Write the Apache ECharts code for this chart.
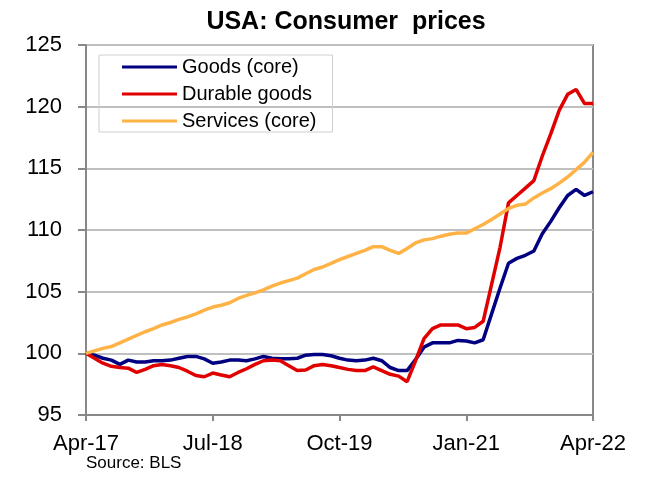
<!DOCTYPE html>
<html>
<head>
<meta charset="utf-8">
<script src="https://cdn.jsdelivr.net/npm/echarts@6/dist/echarts.min.js"></script>
<style>
  html, body { margin: 0; padding: 0; background: #fff; }
  #chart { width: 651px; height: 494px; }
</style>
</head>
<body>
<div id="chart"></div>
<script>
// monthly, Apr-17 .. Apr-22
const monthNames = ["Jan", "Feb", "Mar", "Apr", "May", "Jun", "Jul", "Aug", "Sep", "Oct", "Nov", "Dec"];
const months = [];
for (let i = 0; i < 61; i++) {
  const m = (3 + i) % 12;
  const y = 17 + Math.floor((3 + i) / 12);
  months.push(monthNames[m] + "-" + y);
}

const goodsCore = [
  100.0, 99.85, 99.6, 99.45, 99.1, 99.45, 99.3, 99.3, 99.4, 99.4,
  99.45, 99.6, 99.75, 99.75, 99.55, 99.2, 99.3, 99.45, 99.45, 99.4,
  99.55, 99.75, 99.6, 99.57, 99.57, 99.6, 99.85, 99.9, 99.9, 99.8,
  99.6, 99.45, 99.4, 99.45, 99.6, 99.4, 98.85, 98.6, 98.6, 99.5,
  100.5, 100.85, 100.85, 100.85, 101.05, 101.0, 100.85, 101.1, 103.2, 105.3,
  107.3, 107.7, 107.95, 108.3, 109.7, 110.7, 111.8, 112.8, 113.3, 112.8, 113.1
];
const durableGoods = [
  100.0, 99.6, 99.2, 98.95, 98.85, 98.8, 98.45, 98.7, 99.0, 99.1,
  99.0, 98.85, 98.55, 98.2, 98.1, 98.4, 98.25, 98.1, 98.45, 98.75,
  99.1, 99.4, 99.45, 99.4, 99.0, 98.6, 98.65, 99.0, 99.1, 99.0,
  98.85, 98.7, 98.6, 98.6, 98.9, 98.6, 98.3, 98.15, 97.7, 99.4,
  101.2, 102.0, 102.3, 102.3, 102.3, 102.0, 102.1, 102.6, 105.6, 108.6,
  112.2, 112.8, 113.4, 114.0, 116.0, 117.8, 119.7, 121.0, 121.4, 120.25, 120.25
];
const servicesCore = [
  100.0, 100.2, 100.4, 100.55, 100.85, 101.15, 101.45, 101.75, 102.0, 102.3,
  102.5, 102.75, 102.95, 103.2, 103.5, 103.75, 103.9, 104.1, 104.45, 104.7,
  104.9, 105.15, 105.45, 105.7, 105.9, 106.1, 106.45, 106.8, 107.0, 107.3,
  107.6, 107.85, 108.1, 108.35, 108.65, 108.65, 108.35, 108.1, 108.5, 108.95,
  109.2, 109.3, 109.5, 109.65, 109.75, 109.75, 110.1, 110.45, 110.85, 111.3,
  111.75, 112.0, 112.1, 112.6, 113.0, 113.35, 113.8, 114.3, 114.9, 115.5, 116.3
];

const font = "Liberation Sans, Arial, sans-serif";
const chart = echarts.init(document.getElementById("chart"));

chart.setOption({
  animation: false,
  backgroundColor: "#fff",
  title: {
    text: "USA: Consumer  prices",
    left: 341,
    textAlign: "center",
    top: 5,
    textStyle: { fontFamily: font, fontSize: 25, fontWeight: "bold", color: "#000" }
  },
  graphic: [{
    type: "text",
    left: 86,
    top: 455,
    style: { text: "Source: BLS", font: "17px Liberation Sans, Arial, sans-serif", fill: "#000" }
  }],
  legend: {
    orient: "vertical",
    left: 99,
    top: 55,
    padding: [1, 16, 0, 23],
    borderColor: "#cfcfcf",
    borderWidth: 1,
    icon: "rect",
    itemWidth: 55,
    itemHeight: 3,
    itemGap: 5,
    textStyle: { fontFamily: font, fontSize: 20, lineHeight: 22, color: "#000" },
    data: ["Goods (core)", "Durable goods", "Services (core)"]
  },
  grid: {
    left: 86, right: 58, top: 45, bottom: 79,
    show: true, borderColor: "#888", borderWidth: 2
  },
  xAxis: {
    type: "category",
    data: months,
    boundaryGap: false,
    axisLine: { lineStyle: { color: "#888", width: 2 } },
    axisTick: { show: true, interval: 14, length: 6, lineStyle: { color: "#888", width: 2 } },
    axisLabel: { interval: 14, margin: 18, fontFamily: font, fontSize: 22, color: "#000" },
    splitLine: { show: false }
  },
  yAxis: {
    type: "value",
    min: 95, max: 125, interval: 5,
    axisLine: { show: true, lineStyle: { color: "#888", width: 2 } },
    axisTick: { show: true, length: 8, lineStyle: { color: "#888", width: 2 } },
    axisLabel: { margin: 24, fontFamily: font, fontSize: 22, color: "#000" },
    splitLine: { lineStyle: { color: "#c0c0c0", width: 2 } }
  },
  series: [
    { name: "Goods (core)", type: "line", data: goodsCore, showSymbol: false,
      color: "#000080", lineStyle: { width: 3.5, color: "#000080" } },
    { name: "Durable goods", type: "line", data: durableGoods, showSymbol: false,
      color: "#e00000", lineStyle: { width: 3.5, color: "#e00000" } },
    { name: "Services (core)", type: "line", data: servicesCore, showSymbol: false,
      color: "#ffb347", lineStyle: { width: 3.5, color: "#ffb347" } }
  ]
});
</script>
</body>
</html>
